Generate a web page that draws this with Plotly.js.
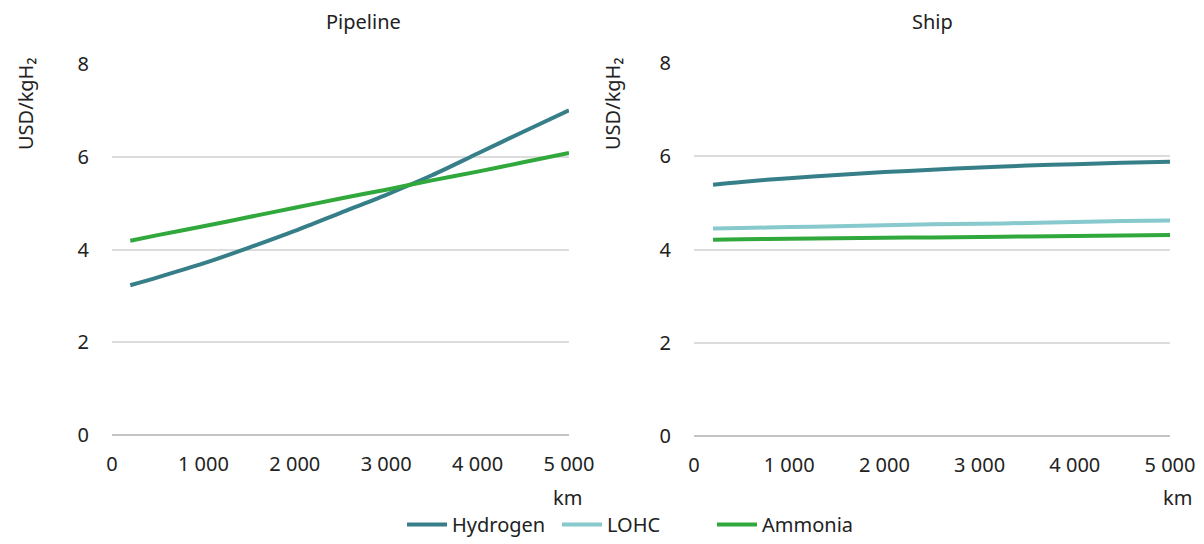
<!DOCTYPE html>
<html>
<head>
<meta charset="utf-8">
<script src="https://cdn.plot.ly/plotly-3.0.1.min.js"></script>
<style>html,body{margin:0;padding:0;background:#fff;}#chart{width:1204px;height:544px;}</style>
</head>
<body>
<div id="chart"></div>
<script>
// Distance (km)
const distanceKm = [200, 500, 1000, 1500, 2000, 2500, 3000, 3500, 4000, 4500, 5000];
// Pipeline (USD/kgH2)
const pipelineHydrogen = [3.23, 3.40, 3.70, 4.04, 4.40, 4.79, 5.18, 5.60, 6.07, 6.54, 7.0];
const pipelineAmmonia  = [4.19, 4.31, 4.50, 4.70, 4.90, 5.10, 5.29, 5.49, 5.68, 5.88, 6.08];
// Ship (USD/kgH2)
const shipHydrogen = [5.39, 5.45, 5.53, 5.60, 5.66, 5.71, 5.76, 5.80, 5.83, 5.86, 5.88];
const shipLOHC     = [4.45, 4.46, 4.48, 4.50, 4.52, 4.54, 4.55, 4.57, 4.59, 4.61, 4.62];
const shipAmmonia  = [4.21, 4.22, 4.23, 4.24, 4.25, 4.26, 4.27, 4.28, 4.29, 4.30, 4.31];

const xTickVals = [0, 1000, 2000, 3000, 4000, 5000];
const xTickText = ['0', '1 000', '2 000', '3 000', '4 000', '5 000'];
const yTickVals = [0, 2, 4, 6, 8];

const colors = {Hydrogen: '#377f88', LOHC: '#87c9cc', Ammonia: '#31a83c'};
const FONT = '"Noto Sans", "Open Sans", sans-serif';

function tr(name, x, y, xa, ya, show) {
  return {type: 'scatter', mode: 'lines', name: name, x: x, y: y, xaxis: xa, yaxis: ya,
    line: {color: colors[name], width: 4, shape: 'spline', smoothing: 0.8}, showlegend: show, legendgroup: name,
    hoverinfo: 'skip'};
}

const data = [
  tr('Hydrogen', distanceKm, pipelineHydrogen, 'x', 'y', true),
  tr('Ammonia', distanceKm, pipelineAmmonia, 'x', 'y', false),
  tr('Hydrogen', distanceKm, shipHydrogen, 'x2', 'y2', false),
  tr('LOHC', distanceKm, shipLOHC, 'x2', 'y2', true),
  tr('Ammonia', distanceKm, shipAmmonia, 'x2', 'y2', true)
];

const xBase = {range: [0, 5000], tickvals: xTickVals, ticktext: xTickText, showgrid: false,
  zeroline: false, showline: false, ticks: '', ticklabelstandoff: 15,
  tickfont: {size: 20, color: '#222', family: FONT}, fixedrange: true};
const yBase = {range: [0, 8], tickvals: yTickVals, showgrid: true, gridcolor: '#dcdcdc', gridwidth: 2,
  zeroline: true, zerolinecolor: '#c4c4c4', zerolinewidth: 2, showline: false, ticks: '',
  ticklabelstandoff: 22, tickfont: {size: 20, color: '#222', family: FONT}, fixedrange: true};

const layout = {
  width: 1204, height: 544,
  margin: {l: 0, r: 0, t: 0, b: 0},
  paper_bgcolor: '#fff', plot_bgcolor: '#fff',
  font: {family: FONT, color: '#222', size: 20},
  xaxis: Object.assign({}, xBase, {domain: [112/1204, 569/1204], anchor: 'y'}),
  yaxis: Object.assign({}, yBase, {domain: [1-435/544, 1-64/544], anchor: 'x'}),
  xaxis2: Object.assign({}, xBase, {domain: [694/1204, 1170/1204], anchor: 'y2'}),
  yaxis2: Object.assign({}, yBase, {domain: [1-436/544, 1-63/544], anchor: 'x2'}),
  showlegend: true,
  legend: {orientation: 'h', x: 0.527, xanchor: 'center', y: 0, yanchor: 'bottom',
    font: {size: 20, family: FONT, color: '#222'}, traceorder: 'normal', itemwidth: 40,
    entrywidth: 100, entrywidthmode: 'pixels',
    bgcolor: 'rgba(0,0,0,0)'},
  annotations: [
    {text: 'Pipeline', xref: 'paper', yref: 'paper', x: 363/1204, y: 1-22/544, xanchor: 'center', yanchor: 'middle', showarrow: false, font: {size: 20}},
    {text: 'Ship', xref: 'paper', yref: 'paper', x: 932/1204, y: 1-22/544, xanchor: 'center', yanchor: 'middle', showarrow: false, font: {size: 20}},
    {text: 'USD/kgH₂', xref: 'paper', yref: 'paper', x: 25/1204, y: 1-104/544, xanchor: 'center', yanchor: 'middle', textangle: -90, showarrow: false, font: {size: 20}},
    {text: 'USD/kgH₂', xref: 'paper', yref: 'paper', x: 612/1204, y: 1-104/544, xanchor: 'center', yanchor: 'middle', textangle: -90, showarrow: false, font: {size: 20}},
    {text: 'km', xref: 'paper', yref: 'paper', x: 567/1204, y: 1-497/544, xanchor: 'center', yanchor: 'middle', showarrow: false, font: {size: 20}},
    {text: 'km', xref: 'paper', yref: 'paper', x: 1177/1204, y: 1-497/544, xanchor: 'center', yanchor: 'middle', showarrow: false, font: {size: 20}}
  ]
};

Plotly.newPlot('chart', data, layout, {displayModeBar: false, staticPlot: true});
</script>
</body>
</html>
